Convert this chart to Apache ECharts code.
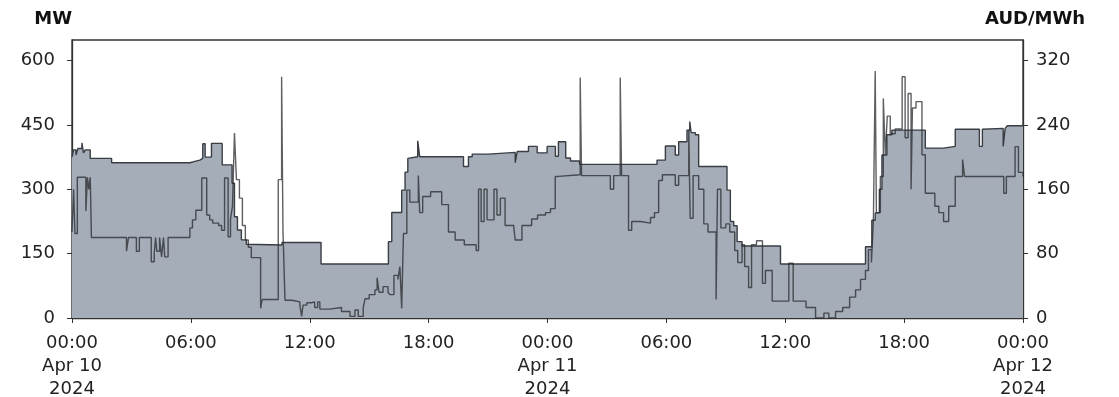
<!DOCTYPE html>
<html>
<head>
<meta charset="utf-8">
<script src="https://cdn.jsdelivr.net/npm/echarts@6.0.0/dist/echarts.min.js"></script>
<style>
    html, body { margin: 0; background: #fff; }
    #chart { width: 1119px; height: 397px; }
</style>
</head>
<body>
<div id="chart"></div>
<script>
// hours since Apr 10 2024 00:00, step changes
const mwHours = [0.00, 0.08, 0.20, 0.30, 0.50, 0.58, 0.67, 0.92, 2.00, 5.95, 6.20, 6.45, 6.60, 6.72, 7.04, 7.58, 8.08, 8.20, 8.35, 8.55, 8.80, 8.90, 10.60, 12.57, 15.97, 16.14, 16.64, 16.81, 16.95, 17.05, 17.45, 17.55, 19.76, 20.01, 20.20, 21.02, 22.37, 22.47, 23.04, 23.48, 23.98, 24.40, 24.55, 24.92, 25.16, 25.62, 29.53, 29.95, 30.45, 30.62, 31.04, 31.18, 31.25, 31.46, 31.63, 33.06, 33.23, 33.40, 33.57, 33.82, 35.76, 40.05, 40.37, 40.54, 40.75, 40.88, 41.13, 41.38, 43.07, 43.99, 44.58, 45.80, 45.95, 46.02, 47.00, 47.10, 47.20, 48.00];
const mwValues = [375, 392, 380, 395, 408, 385, 392, 372, 362, 365, 368, 372, 406, 375, 407, 357, 314, 236, 205, 182, 172, 170, 176, 126, 178, 246, 298, 340, 372, 376, 413, 376, 353, 376, 382, 386, 362, 388, 400, 385, 400, 377, 411, 373, 366, 358, 368, 401, 380, 411, 438, 458, 432, 427, 353, 298, 225, 215, 178, 168, 126, 166, 228, 245, 300, 380, 427, 438, 396, 400, 440, 400, 440, 442, 400, 442, 448, 448];

const priceHours = [0.00, 0.08, 0.15, 0.27, 0.70, 0.78, 0.85, 0.92, 0.98, 2.75, 2.85, 3.25, 3.40, 4.00, 4.15, 4.22, 4.28, 4.42, 4.52, 4.62, 4.68, 4.85, 5.95, 6.08, 6.25, 6.55, 6.80, 6.95, 7.10, 7.40, 7.55, 7.70, 7.88, 8.00, 8.10, 8.20, 8.30, 8.45, 8.60, 8.75, 8.90, 9.05, 9.52, 9.60, 10.41, 10.58, 10.65, 10.75, 11.10, 11.50, 11.59, 11.66, 11.85, 12.10, 12.25, 12.40, 12.51, 13.00, 13.60, 14.03, 14.28, 14.45, 14.70, 14.79, 15.00, 15.29, 15.40, 15.50, 15.70, 15.95, 16.05, 16.25, 16.45, 16.55, 16.64, 16.73, 16.90, 17.05, 17.48, 17.55, 17.70, 18.10, 18.66, 19.00, 19.34, 19.80, 20.40, 20.52, 20.65, 20.80, 20.95, 21.30, 21.45, 21.62, 21.86, 22.30, 22.37, 22.71, 23.20, 23.50, 23.90, 24.15, 24.39, 24.55, 25.65, 25.72, 27.17, 27.34, 27.67, 27.74, 28.09, 28.25, 28.70, 29.20, 29.40, 29.61, 29.80, 30.45, 30.62, 31.13, 31.20, 31.35, 31.63, 31.89, 32.10, 32.51, 32.58, 32.75, 33.00, 33.20, 33.45, 33.60, 33.82, 33.95, 34.15, 34.30, 34.55, 34.85, 35.00, 35.34, 36.18, 36.40, 37.05, 37.53, 37.95, 38.20, 38.54, 38.90, 39.25, 39.55, 39.80, 40.05, 40.20, 40.35, 40.45, 40.54, 40.60, 40.80, 40.95, 41.05, 41.15, 41.30, 41.55, 41.90, 42.05, 42.20, 42.35, 42.42, 42.60, 42.90, 43.07, 43.55, 43.75, 43.99, 44.25, 44.58, 44.95, 45.05, 47.03, 47.16, 47.60, 47.77, 48.00];
const priceValues = [107, 160, 105, 175, 133, 175, 160, 175, 100, 83, 100, 83, 100, 70, 80, 100, 83, 100, 76, 100, 76, 100, 112, 122, 134, 174, 128, 122, 118, 115, 109, 174, 101, 123, 139, 230, 172, 149, 115, 97, 88, 75, 12, 23, 172, 300, 107, 22, 20, 16, 2, 16, 19, 20, 13, 20, 11, 13, 8, 2, 10, 2, 13, 24, 29, 35, 50, 32, 39, 32, 29, 53, 48, 64, 12, 105, 159, 144, 177, 131, 151, 157, 141, 107, 97, 91, 84, 160, 120, 160, 122, 160, 128, 149, 115, 112, 97, 115, 123, 128, 131, 136, 176, 178, 299, 177, 160, 177, 299, 177, 109, 120, 118, 125, 131, 171, 178, 165, 177, 234, 124, 177, 160, 117, 107, 23, 160, 112, 117, 107, 84, 69, 91, 64, 38, 91, 96, 43, 59, 21, 68, 21, 13, 0, 6, 0, 8, 13, 26, 35, 48, 59, 85, 69, 123, 307, 131, 176, 273, 203, 251, 229, 235, 300, 224, 279, 160, 261, 269, 203, 155, 139, 131, 120, 139, 176, 197, 176, 155, 176, 213, 181, 176];

const xTicks = [0, 6, 12, 18, 24, 30, 36, 42, 48];
const mwTicks = [0, 150, 300, 450, 600];
const priceTicks = [0, 80, 160, 240, 320];
const dayLabels = ['Apr 10', 'Apr 11', 'Apr 12'];

const font = 'DejaVu Sans';
const ink = '#222';

function xLabel(v) {
    const h = Math.round(v);
    const hh = String(h % 24).padStart(2, '0') + ':00';
    if (h % 24 === 0) {
        return hh + '\n' + dayLabels[h / 24] + '\n2024';
    }
    return hh;
}

const option = {
    animation: false,
    grid: {
        left: 72,
        right: 96,
        top: 40,
        bottom: 79,
        outerBoundsMode: 'none',
        containLabel: false,
        show: true,
        borderColor: '#333',
        borderWidth: 1.3,
    },
    graphic: [
        {
            type: 'text',
            right: 1119 - 72,
            top: 10,
            style: { text: 'MW', font: 'bold 18px "DejaVu Sans"', fill: '#111' },
        },
        {
            type: 'text',
            left: 985,
            top: 10,
            style: { text: 'AUD/MWh', font: 'bold 18px "DejaVu Sans"', fill: '#111' },
        },
    ],
    xAxis: {
        type: 'value',
        min: 0,
        max: 48,
        axisLine: { lineStyle: { color: '#333', width: 1.3 } },
        axisTick: { customValues: xTicks, length: 5, lineStyle: { color: '#333' } },
        axisLabel: {
            customValues: xTicks,
            formatter: xLabel,
            fontFamily: font,
            fontSize: 18,
            lineHeight: 23,
            color: ink,
            margin: 14,
        },
        splitLine: { show: false },
    },
    yAxis: [
        {
            type: 'value',
            min: 0,
            max: 648,
            axisLine: { show: true, lineStyle: { color: '#333', width: 1.3 } },
            axisTick: { show: true, customValues: mwTicks, length: 5, lineStyle: { color: '#333' } },
            axisLabel: { customValues: mwTicks, fontFamily: font, fontSize: 18, color: ink, margin: 17 },
            splitLine: { show: false },
        },
        {
            type: 'value',
            position: 'right',
            min: 0,
            max: 345.6,
            axisLine: { show: true, lineStyle: { color: '#333', width: 1.3 } },
            axisTick: { show: true, customValues: priceTicks, length: 5, lineStyle: { color: '#333' } },
            axisLabel: { customValues: priceTicks, fontFamily: font, fontSize: 18, color: ink, margin: 13 },
            splitLine: { show: false },
        },
    ],
    series: [
        {
            name: 'MW',
            type: 'line',
            step: 'end',
            symbol: 'none',
            yAxisIndex: 0,
            data: mwHours.map((h, i) => [h, mwValues[i]]),
            lineStyle: { color: '#3a3e44', width: 1.4 },
            areaStyle: { color: '#a4adb8', opacity: 1 },
            z: 2,
        },
        {
            name: 'AUD/MWh',
            type: 'line',
            step: 'end',
            symbol: 'none',
            yAxisIndex: 1,
            data: priceHours.map((h, i) => [h, priceValues[i]]),
            lineStyle: { color: 'rgba(40,42,46,0.75)', width: 1.4 },
            z: 3,
        },
    ],
};

const myChart = echarts.init(document.getElementById('chart'));
myChart.setOption(option);
</script>
</body>
</html>
